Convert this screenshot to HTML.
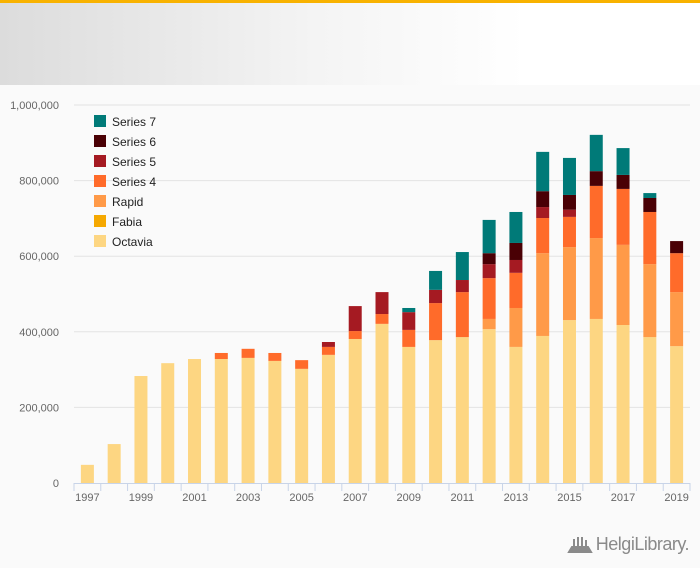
<!DOCTYPE html>
<html><head><meta charset="utf-8"><style>
body{margin:0;width:700px;height:568px;overflow:hidden;background:#fafafa;font-family:"Liberation Sans",sans-serif}
#top{position:absolute;left:0;top:0;width:700px;height:3px;background:#f8b200}
#hdr{position:absolute;left:0;top:3px;width:700px;height:82px;background:linear-gradient(90deg,#dcdcdc,#f4f4f4 45%,#fff 75%)}
svg{position:absolute;left:0;top:0}
</style></head><body>
<div id="top"></div>
<div id="hdr"></div>
<svg id="c" width="700" height="568"></svg>
<script>
const years=[1997,1998,1999,2000,2001,2002,2003,2004,2005,2006,2007,2008,2009,2010,2011,2012,2013,2014,2015,2016,2017,2018,2019];
const octavia=[48,103,283,317,328,328,331,323,302,339,381,421,360,378,386,407,360,389,431,434,418,386,362];
const fabia=[0,0,0,0,0,0,0,0,0,0,0,0,0,0,0,0,0,0,0,0,0,0,0];
const rapid=[0,0,0,0,0,0,0,0,0,0,0,0,0,0,0,27,103,219,193,214,212,193,143];
const series4=[0,0,0,0,0,16,24,21,23,21,21,26,45,98,119,108,93,93,80,138,148,138,103];
const series5=[0,0,0,0,0,0,0,0,0,13,66,58,47,35,32,37,34,29,19,0,0,0,0];
const series6=[0,0,0,0,0,0,0,0,0,0,0,0,0,0,0,29,45,42,39,39,37,37,32];
const series7=[0,0,0,0,0,0,0,0,0,0,0,0,11,50,74,88,82,104,98,96,71,13,0];
const seriesNames=["Octavia","Fabia","Rapid","Series 4","Series 5","Series 6","Series 7"];
const yTicks=[0,200000,400000,600000,800000,1000000];
const yTickLabels=["0","200,000","400,000","600,000","800,000","1,000,000"];
const series=[octavia,fabia,rapid,series4,series5,series6,series7];
const colors=["#fdd682","#f5a800","#ff9a48","#ff6b2a","#a51a22","#4a0005","#007a78"];
const NS="http://www.w3.org/2000/svg",svg=document.getElementById('c');
const x0=74,x1=690,step=(x1-x0)/years.length;
const xc=i=>x0+step*(i+0.5);
const y=v=>483-v*378/1000000;
function mk(t,a){const e=document.createElementNS(NS,t);for(const k in a)e.setAttribute(k,a[k]);svg.appendChild(e);return e;}
yTicks.forEach((v,i)=>{
 if(v>0){const g=mk('line',{x1:74,x2:690,y1:y(v),y2:y(v),stroke:'#e3e3e3','stroke-width':1});
 
 }
 const t=mk('text',{x:59,y:y(v)+4,'text-anchor':'end','font-size':11,fill:'#666'});t.textContent=yTickLabels[i];
 
 
});
years.forEach((yr,i)=>{
 let acc=0;
 series.forEach((s,k)=>{
  const v=s[i]*1000;if(v<=0)return;
  const r=mk('rect',{x:xc(i)-6.5,y:y(acc+v),width:13,height:y(acc)-y(acc+v),fill:colors[k]});
  
  
  acc+=v;
 });
});
const ax=mk('line',{x1:74,x2:690,y1:483.5,y2:483.5,stroke:'#c8d4e8'});


for(let i=0;i<=years.length;i++){
 const tk=mk('line',{x1:x0+step*i,x2:x0+step*i,y1:483,y2:491,stroke:'#c8d4e8'});
 
 
}
years.forEach((yr,i)=>{if(i%2)return;
 const t=mk('text',{x:xc(i),y:501,'text-anchor':'middle','font-size':11,fill:'#666'});t.textContent=yr;
 
 
});
for(let k=6,j=0;k>=0;k--,j++){
 const ry=115+j*20;
 const r=mk('rect',{x:94,y:ry,width:12,height:12,fill:colors[k]});
 
 
 const t=mk('text',{x:112,y:ry+11,'font-size':12,fill:'#222'});t.textContent=seriesNames[k];
 
 
}
const logo=mk('text',{x:689,y:550,'text-anchor':'end','font-size':18,fill:'#8a8a8a','font-family':'Liberation Sans, sans-serif','letter-spacing':'-0.5'});
logo.textContent='HelgiLibrary.';


const ic=mk('path',{d:'M569 552 L591 552 L588 547 L572 547 Z M574 547 V539 M578 547 V537 M582 547 V537 M586 547 V540',stroke:'#8a8a8a','stroke-width':2,fill:'#8a8a8a'});


</script>
</body></html>
